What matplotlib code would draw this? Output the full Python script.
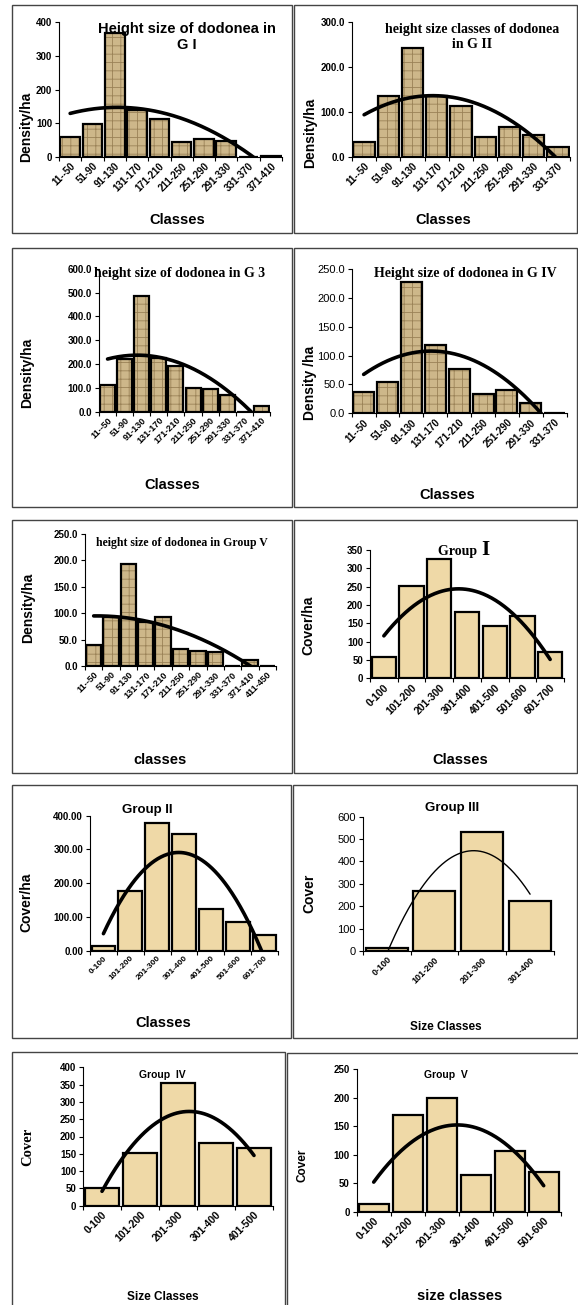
import matplotlib
matplotlib.use('Agg')
import matplotlib.pyplot as plt
from matplotlib.patches import Rectangle
import numpy as np

plt.rcParams['font.family'] = 'Liberation Sans'
plt.rcParams['hatch.linewidth'] = 0.6

W, H = 578, 1305

# ---- data ----
h_classes_10 = ['11--50', '51-90', '91-130', '131-170', '171-210', '211-250',
                '251-290', '291-330', '331-370', '371-410']
h_classes_9 = h_classes_10[:9]
h_classes_11 = h_classes_10 + ['411-450']
c_classes = ['0-100', '101-200', '201-300', '301-400', '401-500', '501-600', '601-700']

g1_height = [59, 97, 366, 140, 112, 43, 54, 46, 0, 3]
g2_height = [34, 136, 243, 135, 113, 45, 67, 49, 23]
g3_height = [112, 220, 485, 225, 190, 100, 95, 70, 0, 25]
g4_height = [37, 54, 227, 118, 76, 33, 40, 17, 0]
g5_height = [40, 93, 193, 84, 92, 32, 28, 27, 0, 11, 0]

g1_cover = [57, 253, 325, 182, 143, 170, 73]
g2_cover = [15, 177, 377, 345, 125, 85, 48]
g3_cover = [15, 268, 530, 225]
g4_cover = [50, 153, 356, 180, 166]
g5_cover = [13, 170, 200, 65, 107, 69]

fig = plt.figure(figsize=(W / 100, H / 100), dpi=100)

TEX_FACE = '#cdb78a'
TEX_HATCH = '#9a8257'
PAPER = '#efd9a7'


def fx(x):
    return x / W


def fy(y):
    return 1 - y / H


def frame(x0, y0, x1, y1):
    fig.add_artist(Rectangle((fx(x0), fy(y1)), fx(x1) - fx(x0), fy(y0) - fy(y1),
                             transform=fig.transFigure, fill=False,
                             ec='#444444', lw=1.0))


def panel(x0, x1, ybase, ytop, ymax, ystep, fmt, cats, vals, textured=True,
          tick_bold=True, tick_size=7, xt_size=7, trend_lw=2.6, width=0.88):
    ax = fig.add_axes([fx(x0), fy(ybase), fx(x1) - fx(x0), (ybase - ytop) / H])
    n = len(cats)
    x = np.arange(1, n + 1)
    if textured:
        ax.bar(x, vals, width=width, color=TEX_FACE, edgecolor=TEX_HATCH,
               hatch='++', lw=0)
        ax.bar(x, vals, width=width, fill=False, edgecolor='black', lw=1.6)
    else:
        ax.bar(x, vals, width=width, color=PAPER, edgecolor='black', lw=1.6)
    # polynomial trendline (order 2), as in the spreadsheet
    coef = np.polyfit(x, vals, 2)
    xf = np.linspace(1, n, 200)
    ax.plot(xf, np.polyval(coef, xf), color='black', lw=trend_lw,
            solid_capstyle='round')
    ax.set_xlim(0.5, n + 0.5)
    ax.set_ylim(0, ymax)
    ticks = np.arange(0, ymax + ystep / 2, ystep)
    ax.set_yticks(ticks)
    ax.set_yticklabels([fmt % v for v in ticks], fontsize=tick_size,
                       fontweight='bold' if tick_bold else 'normal')
    ax.set_xticks(np.arange(0.5, n + 1, 1))
    ax.set_xticklabels([])
    ax.set_xticks(x, minor=True)
    ax.set_xticklabels(cats, minor=True, rotation=45, ha='right',
                       rotation_mode='anchor', fontsize=xt_size,
                       fontweight='bold')
    ax.tick_params(axis='x', which='minor', length=0, pad=3)
    ax.tick_params(axis='x', which='major', length=3, direction='out')
    ax.tick_params(axis='y', length=3, direction='out', pad=2)
    for s in ['top', 'right']:
        ax.spines[s].set_visible(False)
    ax.set_facecolor('none')
    return ax


def label(x, y, s, size=10, rot=0, family='Liberation Sans', weight='bold'):
    fig.text(fx(x), fy(y), s, ha='center', va='center', rotation=rot,
             fontsize=size, family=family, fontweight=weight)


# frames
frame(12, 5, 292, 233)
frame(294, 5, 577, 233)
frame(12, 248, 292, 507)
frame(294, 248, 577, 507)
frame(12, 520, 292, 773)
frame(294, 520, 577, 773)
frame(12, 785, 291, 1038)
frame(293, 785, 577, 1038)
frame(12, 1052, 285, 1320)
frame(287, 1053, 590, 1320)

# P1
panel(59, 282, 157, 22, 400, 100, '%d', h_classes_10, g1_height)
label(187, 37, 'Height size of dodonea in\nG I', size=10.5)
label(26, 127, 'Density/ha', size=10, rot=90)
label(177, 220, 'Classes', size=10.5)

# P2
panel(352, 570, 157, 22.3, 300, 100, '%.1f', h_classes_9, g2_height)
label(472, 37, 'height size classes of dodonea\nin G II', size=10,
      family='Liberation Serif')
label(310, 133, 'Density/ha', size=10, rot=90)
label(443, 220, 'Classes', size=10.5)

# P3
panel(99, 270, 411.7, 268.7, 600, 100, '%.1f', h_classes_10, g3_height,
      xt_size=6.5)
label(180, 273, 'height size of dodonea in G 3', size=10,
      family='Liberation Serif')
label(27, 373, 'Density/ha', size=10, rot=90)
label(172, 485, 'Classes', size=10.5)

# P4
panel(351.7, 566.7, 413.3, 269, 250, 50, '%.1f', h_classes_9, g4_height,
      tick_bold=False, tick_size=8)
label(465, 273, 'Height size of dodonea in G IV', size=10,
      family='Liberation Serif')
label(310, 383, 'Density /ha', size=10, rot=90)
label(447, 495, 'Classes', size=10.5)

# P5
panel(85, 276, 666, 534, 250, 50, '%.1f', h_classes_11, g5_height,
      xt_size=6.5)
label(182, 543, 'height size of dodonea in Group V', size=8.5,
      family='Liberation Serif')
label(28, 608, 'Density/ha', size=10, rot=90)
label(160, 760, 'classes', size=10.5)

# P6
panel(370, 564, 678.3, 550, 350, 50, '%d', c_classes, g1_cover,
      textured=False, xt_size=7.5)
fig.text(fx(481), fy(552), 'Group ', ha='right', va='center', fontsize=10,
         family='Liberation Serif', fontweight='bold')
fig.text(fx(481), fy(550), 'I', ha='left', va='center', fontsize=15,
         family='Liberation Serif', fontweight='bold')
label(308, 625, 'Cover/ha', size=10, rot=90)
label(460, 760, 'Classes', size=10.5)

# P7
panel(90, 278, 950.7, 815.7, 400, 100, '%.2f', c_classes, g2_cover,
      textured=False, xt_size=6)
label(147, 810, 'Group II', size=9.5)
label(26, 902, 'Cover/ha', size=10, rot=90)
label(163, 1023, 'Classes', size=10.5)

# P8
panel(362.7, 554, 951, 816.7, 600, 100, '%d', c_classes[:4], g3_cover,
      textured=False, tick_bold=False, tick_size=8, xt_size=6.5, trend_lw=1.0)
label(452, 808, 'Group III', size=9.5)
label(309, 893, 'Cover', size=10, rot=90)
label(446, 1027, 'Size Classes', size=8.5)

# P9
panel(83, 273, 1205.7, 1067.3, 400, 50, '%d', c_classes[:5], g4_cover,
      textured=False, xt_size=7.5)
label(162, 1075, 'Group  IV', size=7.5)
label(28, 1147, 'Cover', size=10.5, rot=90, family='Liberation Serif')
label(163, 1297, 'Size Classes', size=8.5)

# P10
panel(356.7, 560.7, 1211.7, 1069.3, 250, 50, '%d', c_classes[:6], g5_cover,
      textured=False, xt_size=7.5)
label(446, 1075, 'Group  V', size=7.5)
label(302, 1165, 'Cover', size=8.5, rot=90)
label(460, 1296, 'size classes', size=10.5)

fig.savefig('out.png', dpi=100)
